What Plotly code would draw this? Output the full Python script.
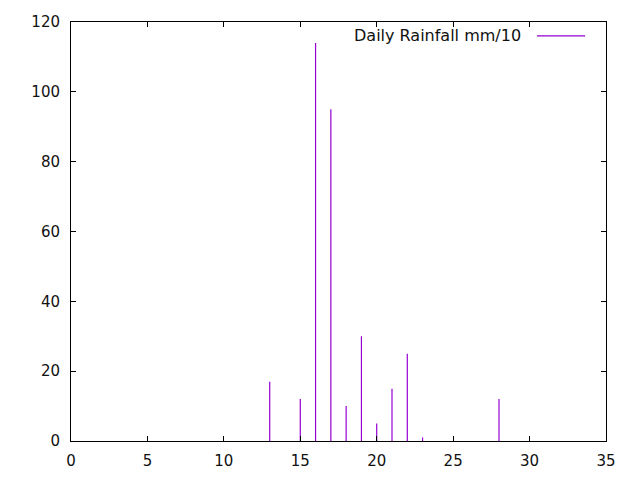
import plotly.graph_objects as go

# daily rainfall (mm/10)
days = [13, 15, 16, 17, 18, 19, 20, 21, 22, 23, 28]
rain = [17, 12, 114, 95, 10, 30, 5, 15, 25, 1, 12]

# impulses: a vertical line from 0 to the value for every day
xs, ys = [], []
for d, r in zip(days, rain):
    xs += [d, d, None]
    ys += [0, r, None]

purple = '#9400d3'
font = dict(family='DejaVu Sans', size=15, color='#111111')

fig = go.Figure()
fig.add_trace(go.Scatter(x=xs, y=ys, mode='lines', line=dict(color=purple, width=1.2),
                         name='Daily Rainfall mm/10', showlegend=False, hoverinfo='skip'))

axis = dict(showline=True, linecolor='black', linewidth=1, mirror='ticks',
            ticks='inside', ticklen=5, tickcolor='black', showgrid=False,
            zeroline=False, tickfont=font, automargin=False)

# page body adds an 8px offset, so the figure is a bit smaller than the window
fig.update_layout(
    width=632, height=472,
    margin=dict(l=63, r=34, t=14, b=39),
    plot_bgcolor='white', paper_bgcolor='white',
    xaxis=dict(axis, range=[0, 35], dtick=5, ticklabelstandoff=6),
    yaxis=dict(axis, range=[0, 120], dtick=20, ticklabelstandoff=7),
    font=font,
)

# gnuplot-style key: text on the left, line sample on the right
fig.add_annotation(x=0.845, y=0.967, xref='paper', yref='paper', xanchor='right',
                   yanchor='middle', text='Daily Rainfall mm/10', showarrow=False,
                   font=dict(font, size=16))
fig.add_shape(type='line', xref='paper', yref='paper', x0=0.871, x1=0.961, y0=0.967, y1=0.967,
              line=dict(color=purple, width=1.2))

fig.write_html("out.html")
